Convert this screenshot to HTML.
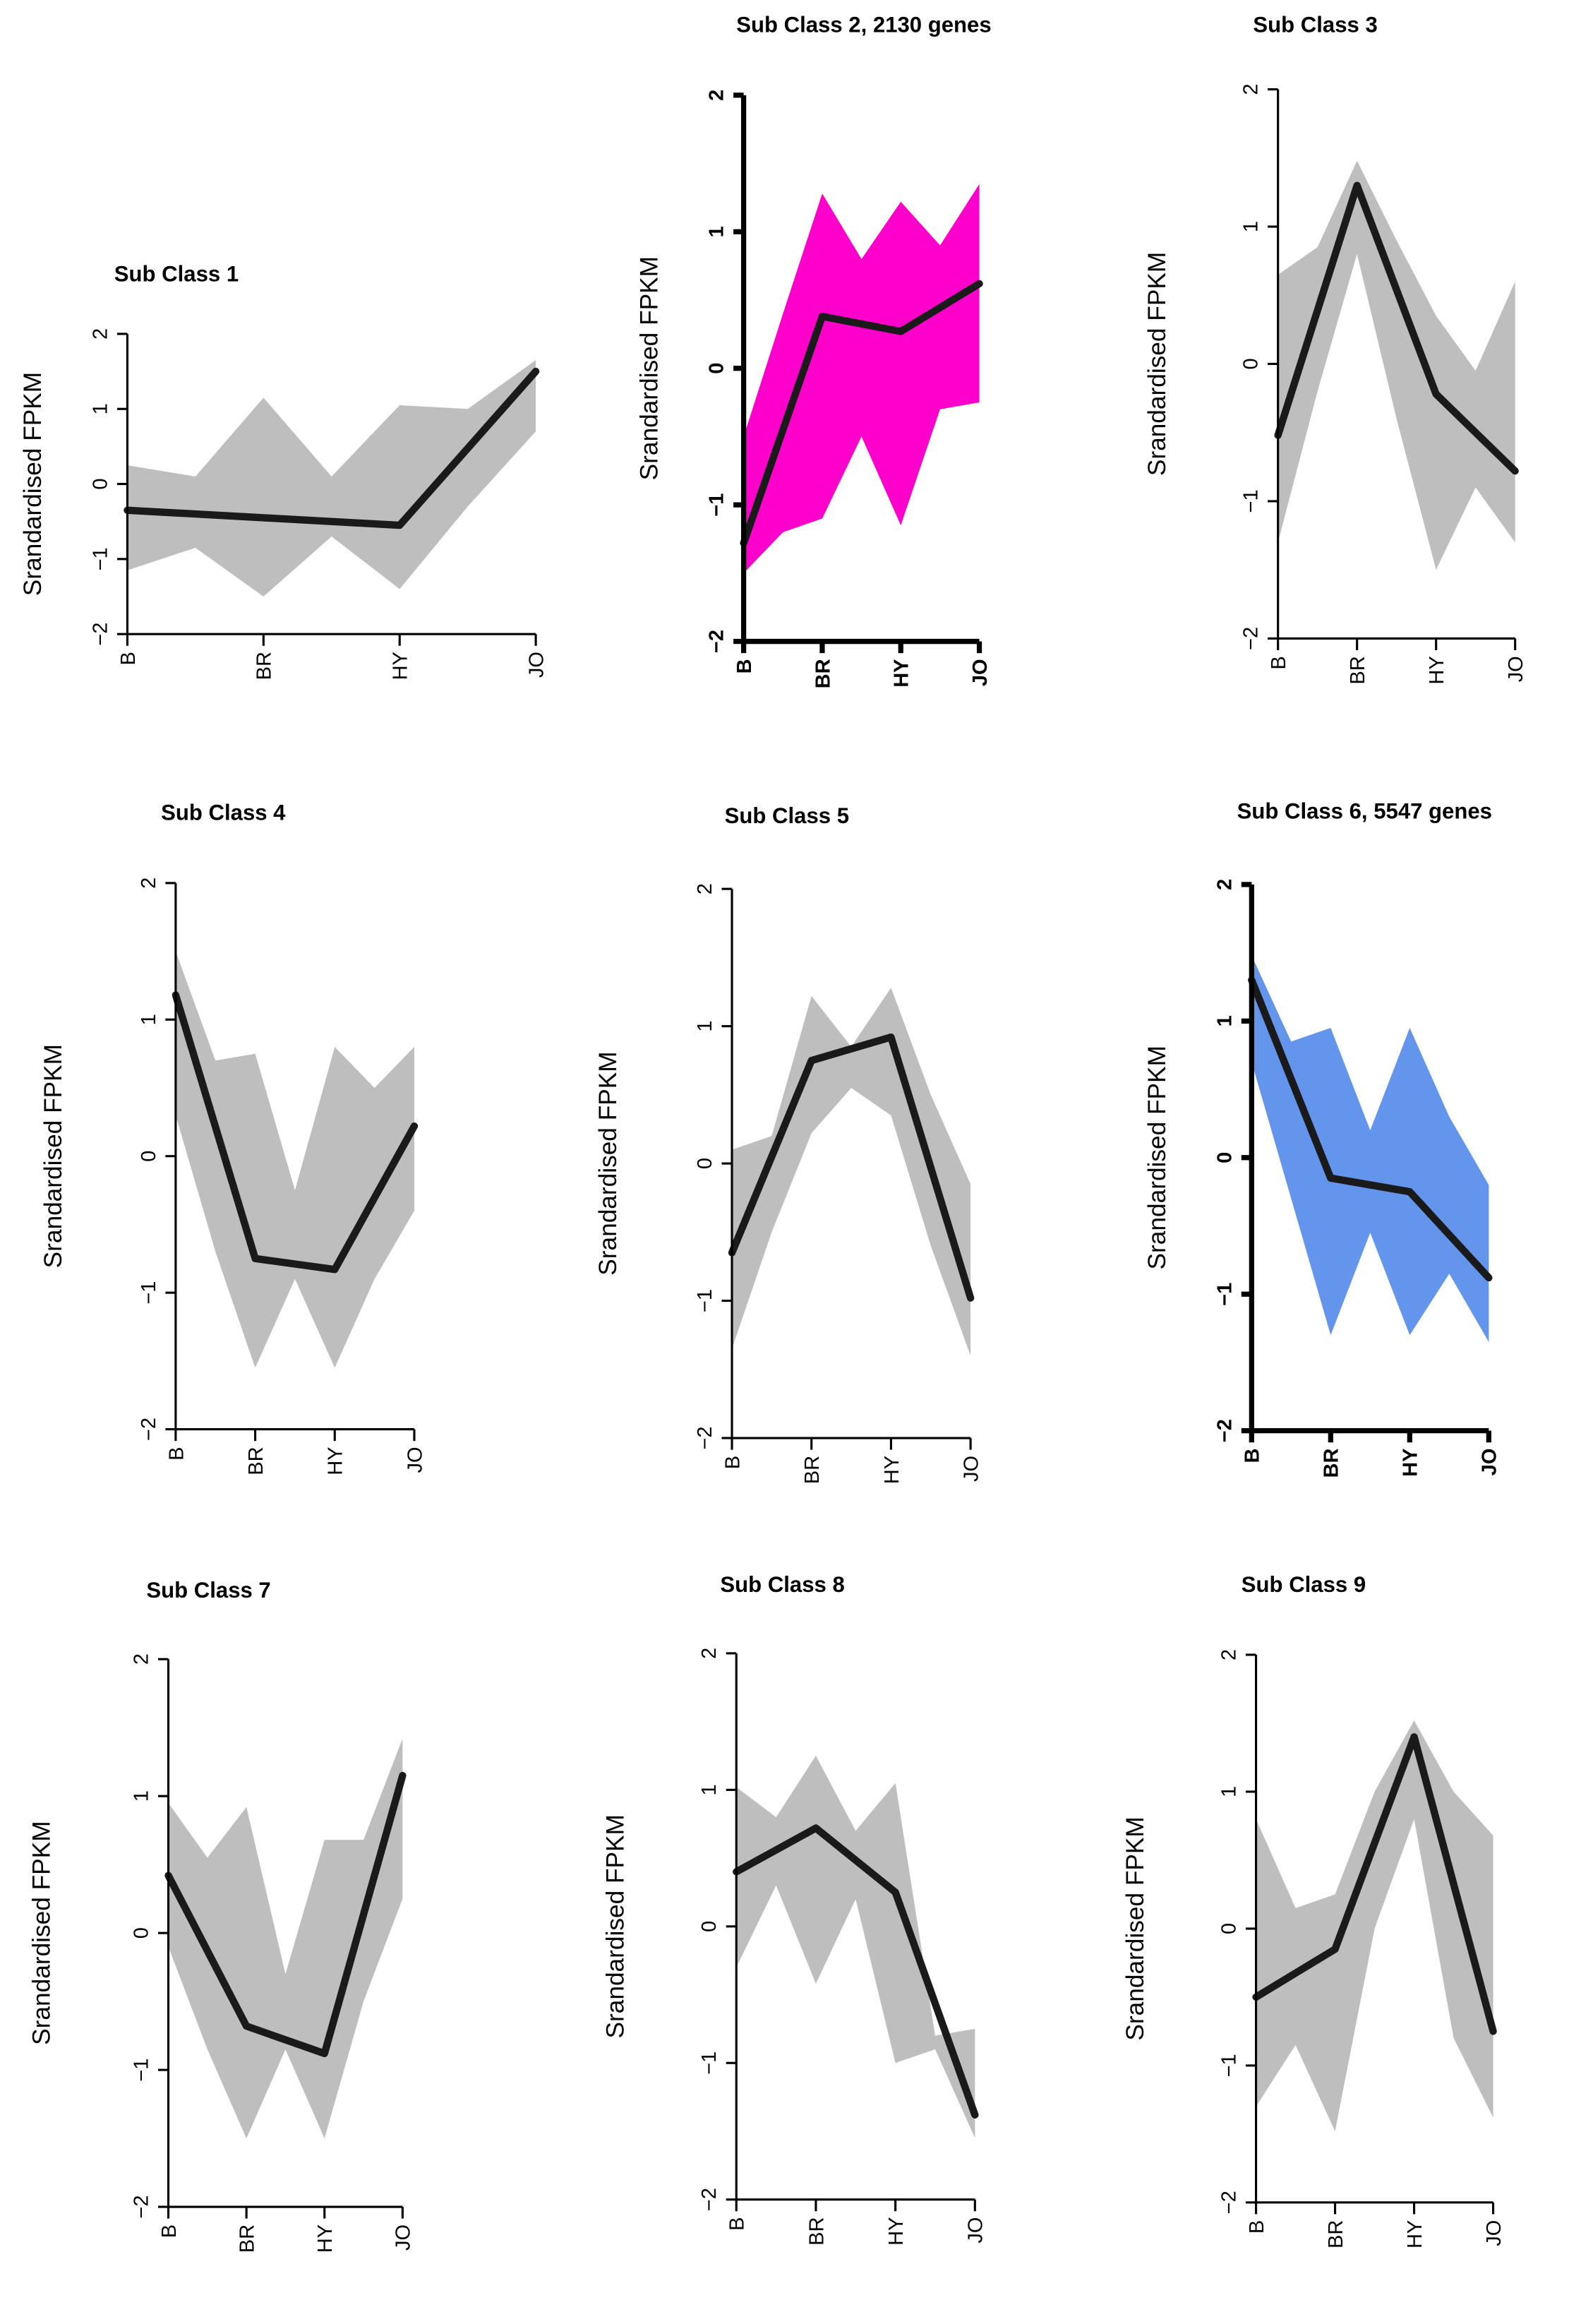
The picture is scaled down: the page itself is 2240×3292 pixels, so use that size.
<!DOCTYPE html>
<html><head><meta charset="utf-8"><style>
html,body{margin:0;padding:0;background:#fff}
svg{display:block}
text{font-family:"Liberation Sans",sans-serif}
</style></head><body>
<svg id="fig" width="2240" height="3292" viewBox="0 0 1080 1587" preserveAspectRatio="none" xmlns="http://www.w3.org/2000/svg"></svg>
<script>
const categories = ["B","BR","HY","JO"];
const yTicks = [-2,-1,0,1,2];
const yTickLabels = ["\u22122","\u22121","0","1","2"];
const bandX = [0,0.5,1,1.5,2,2.5,3];
const titles = ["Sub Class 1","Sub Class 2, 2130 genes","Sub Class 3","Sub Class 4","Sub Class 5","Sub Class 6, 5547 genes","Sub Class 7","Sub Class 8","Sub Class 9"];
const mean1=[-0.35,-0.45,-0.55,1.5], upper1=[0.25,0.1,1.15,0.1,1.05,1.0,1.65], lower1=[-1.15,-0.85,-1.5,-0.7,-1.4,-0.3,0.7];
const mean2=[-1.28,0.38,0.27,0.62], upper2=[-0.5,0.4,1.28,0.8,1.22,0.9,1.35], lower2=[-1.5,-1.2,-1.1,-0.5,-1.15,-0.3,-0.25];
const mean3=[-0.52,1.3,-0.22,-0.78], upper3=[0.65,0.85,1.48,0.9,0.35,-0.05,0.6], lower3=[-1.3,-0.2,0.8,-0.4,-1.5,-0.9,-1.3];
const mean4=[1.18,-0.75,-0.83,0.22], upper4=[1.5,0.7,0.75,-0.25,0.8,0.5,0.8], lower4=[0.3,-0.7,-1.55,-0.9,-1.55,-0.9,-0.4];
const mean5=[-0.65,0.75,0.92,-0.98], upper5=[0.1,0.2,1.22,0.85,1.28,0.5,-0.15], lower5=[-1.35,-0.5,0.22,0.55,0.35,-0.6,-1.4];
const mean6=[1.3,-0.15,-0.25,-0.88], upper6=[1.48,0.85,0.95,0.2,0.95,0.3,-0.2], lower6=[0.7,-0.3,-1.3,-0.55,-1.3,-0.85,-1.35];
const mean7=[0.42,-0.68,-0.88,1.15], upper7=[0.95,0.55,0.92,-0.3,0.68,0.68,1.42], lower7=[-0.1,-0.85,-1.5,-0.85,-1.5,-0.5,0.25];
const mean8=[0.4,0.72,0.25,-1.38], upper8=[1.02,0.8,1.25,0.7,1.05,-0.8,-0.75], lower8=[-0.3,0.3,-0.42,0.2,-1.0,-0.9,-1.55];
const mean9=[-0.5,-0.15,1.4,-0.75], upper9=[0.8,0.15,0.25,1.0,1.52,1.0,0.68], lower9=[-1.3,-0.85,-1.48,0.0,0.8,-0.8,-1.38];
const means=[mean1,mean2,mean3,mean4,mean5,mean6,mean7,mean8,mean9];
const uppers=[upper1,upper2,upper3,upper4,upper5,upper6,upper7,upper8,upper9];
const lowers=[lower1,lower2,lower3,lower4,lower5,lower6,lower7,lower8,lower9];

// layout (pixel positions in 1080x1587 view units)
const layout=[
 {x0:87,x1:366,yTop:228,yBot:433,tx:78,ty:192,lx:22,fill:"#bebebe",bold:false},
 {x0:508,x1:669,yTop:65,yBot:438,tx:503,ty:22,lx:443,fill:"#ff00cc",bold:true},
 {x0:873,x1:1035,yTop:61,yBot:436,tx:856,ty:22,lx:790,fill:"#bebebe",bold:false},
 {x0:120,x1:283,yTop:603,yBot:976,tx:110,ty:560,lx:36,fill:"#bebebe",bold:false},
 {x0:500,x1:663,yTop:607,yBot:982,tx:495,ty:562,lx:415,fill:"#bebebe",bold:false},
 {x0:855,x1:1017,yTop:604,yBot:977,tx:845,ty:559,lx:790,fill:"#6495ed",bold:true},
 {x0:115,x1:275,yTop:1133,yBot:1507,tx:100,ty:1091,lx:28,fill:"#bebebe",bold:false},
 {x0:503,x1:666,yTop:1129,yBot:1502,tx:492,ty:1087,lx:420,fill:"#bebebe",bold:false},
 {x0:858,x1:1020,yTop:1130,yBot:1504,tx:848,ty:1087,lx:775,fill:"#bebebe",bold:false}
];
const NS="http://www.w3.org/2000/svg";
const svg=document.getElementById('fig');
function mk(tag,attrs,parent){const e=document.createElementNS(NS,tag);for(const k in attrs)e.setAttribute(k,attrs[k]);parent.appendChild(e);return e;}
layout.forEach((L,i)=>{
  const g=mk('g',{},svg);
  
  
  const xs=v=>L.x0+(L.x1-L.x0)*v/3;
  const ys=v=>L.yBot-(L.yBot-L.yTop)*(v+2)/4;
  const aw=L.bold?3.5:1.5;
  // band
  let pts=bandX.map((b,j)=>xs(b)+','+ys(uppers[i][j]));
  for(let j=bandX.length-1;j>=0;j--)pts.push(xs(bandX[j])+','+ys(lowers[i][j]));
  const band=mk('polygon',{points:pts.join(' '),fill:L.fill},g);
  
  
  // mean line
  const ml=mk('polyline',{points:means[i].map((v,j)=>xs(j)+','+ys(v)).join(' '),fill:'none',stroke:'#1a1a1a','stroke-width':5,'stroke-linejoin':'round','stroke-linecap':'round'},g);
  
  
  // y axis
  const ya=mk('line',{x1:L.x0,y1:ys(-2),x2:L.x0,y2:ys(2),stroke:'#000','stroke-width':aw},g);
  
  
  yTicks.forEach((t,k)=>{
    mk('line',{x1:L.x0-7,y1:ys(t),x2:L.x0,y2:ys(t),stroke:'#000','stroke-width':aw},g);
    const tl=mk('text',{x:0,y:0,transform:`translate(${L.x0-14},${ys(t)}) rotate(-90)`,'text-anchor':'middle','font-size':14,'font-weight':L.bold?'bold':'normal'},g);
    tl.textContent=yTickLabels[k];
    
    
  });
  // x axis
  const xa=mk('line',{x1:xs(0),y1:L.yBot,x2:xs(3),y2:L.yBot,stroke:'#000','stroke-width':aw},g);
  
  
  categories.forEach((c,k)=>{
    mk('line',{x1:xs(k),y1:L.yBot,x2:xs(k),y2:L.yBot+8,stroke:'#000','stroke-width':aw},g);
    const xl=mk('text',{x:0,y:0,transform:`translate(${xs(k)+5},${L.yBot+12}) rotate(-90)`,'text-anchor':'end','font-size':14,'font-weight':L.bold?'bold':'normal'},g);
    xl.textContent=c;
    
    
  });
  const yl=mk('text',{x:0,y:0,transform:`translate(${L.lx+6},${(L.yTop+L.yBot)/2}) rotate(-90)`,'text-anchor':'middle','font-size':17},g);
  yl.textContent='Srandardised FPKM';
  
  
  const tt=mk('text',{x:L.tx,y:L.ty,'font-size':15,'font-weight':'bold'},g);
  tt.textContent=titles[i];
  
  
});
</script>
</body></html>
